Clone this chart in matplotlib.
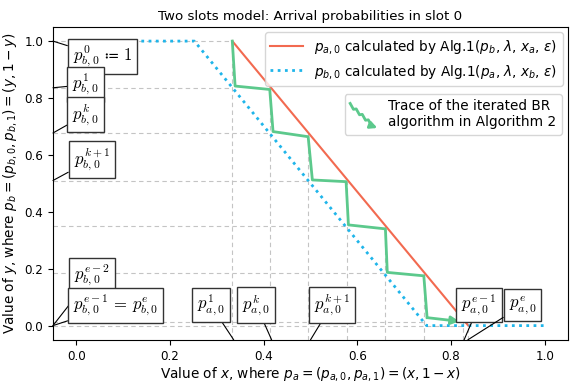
import matplotlib
matplotlib.use("Agg")
import matplotlib.pyplot as plt
from matplotlib.legend_handler import HandlerBase
from matplotlib.lines import Line2D
from matplotlib.patches import FancyArrowPatch

# best response curves
red_x = [0.333, 0.837]
red_y = [1.0, 0.0]
blue_x = [0.0, 0.252, 0.748, 1.0]
blue_y = [1.0, 1.0, 0.0, 0.0]

# trace of the iterated BR algorithm
trace_x = [0.333, 0.339, 0.413, 0.420, 0.495, 0.504, 0.576, 0.581, 0.660, 0.664, 0.742, 0.749]
trace_y = [1.000, 0.842, 0.830, 0.682, 0.664, 0.512, 0.506, 0.354, 0.340, 0.187, 0.175, 0.028]
trace_end = (0.818, 0.015)

# guide lines
pa_vals = [0.333, 0.413, 0.495, 0.578, 0.660, 0.742, 0.826, 0.837]
pb_vals = [1.0, 0.836, 0.677, 0.51, 0.35, 0.186, 0.014, 0.0]

pb_labels = [r"$p_{b,0}^{0} \,\coloneq\, 1$", r"$p_{b,0}^{1}$", r"$p_{b,0}^{k}$",
             r"$p_{b,0}^{k+1}$", r"$p_{b,0}^{e-2}$", r"$p_{b,0}^{e-1} \,=\, p_{b,0}^{e}$"]
pb_targets = [1.0, 0.836, 0.677, 0.51, 0.0, 0.0]
pb_boxpos = [(0.056, 0.945), (0.020, 0.847), (0.020, 0.742), (0.033, 0.584),
             (0.033, 0.175), (0.084, 0.072)]

pa_labels = [r"$p_{a,0}^{1}$", r"$p_{a,0}^{k}$", r"$p_{a,0}^{k+1}$",
             r"$p_{a,0}^{e-1}$", r"$p_{a,0}^{e}$"]
pa_targets = [0.336, 0.417, 0.500, 0.828, 0.836]
pa_boxpos = [(0.287, 0.072), (0.384, 0.072), (0.545, 0.072), (0.860, 0.072), (0.953, 0.072)]

RED = "#f26a50"
BLUE = "#1fb5ea"
GREEN = "#5cc98c"
GRID = "#c4c4c4"

xmin, xmax = -0.05, 1.05
ymin, ymax = -0.05, 1.05


class ZigzagHandler(HandlerBase):
    def create_artists(self, legend, orig_handle, xdescent, ydescent,
                       width, height, fontsize, trans):
        x0, x1 = -xdescent, -xdescent + width
        y0, y1 = -ydescent, -ydescent + height
        n = 4
        xs, ys = [], []
        for i in range(n):
            fx = i / (n + 0.5)
            fy = 1 - i / (n + 0.5)
            xs += [x0 + fx * (x1 - x0), x0 + (fx + 0.12) * (x1 - x0)]
            ys += [y0 + fy * (y1 - y0), y0 + (fy - 0.24) * (y1 - y0)]
        line = Line2D(xs, ys, color=GREEN, lw=2, transform=trans)
        arr = FancyArrowPatch((xs[-1], ys[-1]), (x1, y0), arrowstyle="-|>",
                              mutation_scale=10, color=GREEN, lw=2,
                              shrinkA=0, shrinkB=0, transform=trans)
        return [line, arr]


fig = plt.figure(figsize=(5.82, 3.84), dpi=100)
ax = fig.add_axes([0.091, 0.115, 0.885, 0.815])

for i, (xa, yb) in enumerate(zip(pa_vals, pb_vals)):
    ax.plot([xa, xa], [ymin, yb], color=GRID, lw=0.8, ls=(0, (4, 3)), zorder=1)
    ax.plot([xmin, pa_vals[max(i - 1, 0)]], [yb, yb], color=GRID, lw=0.8,
            ls=(0, (4, 3)), zorder=1)

h1, = ax.plot(red_x, red_y, color=RED, lw=1.5, zorder=3,
              label=r"$p_{a,0}$ calculated by Alg.1($p_b$, $\lambda$, $x_a$, $\varepsilon$)")
h2, = ax.plot(blue_x, blue_y, color=BLUE, lw=2, ls=(0, (1, 1.6)), zorder=3,
              label=r"$p_{b,0}$ calculated by Alg.1($p_a$, $\lambda$, $x_b$, $\varepsilon$)")
ax.plot(trace_x, trace_y, color=GREEN, lw=2, zorder=4)
ax.annotate("", xy=trace_end, xytext=(trace_x[-1], trace_y[-1]),
            arrowprops=dict(arrowstyle="-|>", color=GREEN, lw=2,
                            mutation_scale=12, shrinkA=0, shrinkB=0), zorder=4)

box = dict(boxstyle="square,pad=0.3", fc="white", ec="#333333", lw=1)
for lab, yt, pos in zip(pb_labels, pb_targets, pb_boxpos):
    ax.annotate(lab, xy=(xmin, yt), xytext=pos, ha="center", va="center",
                fontsize=12, math_fontfamily="cm", bbox=box, annotation_clip=False,
                arrowprops=dict(arrowstyle="-", color="black", lw=0.8,
                                shrinkA=0, shrinkB=0), zorder=6)
for lab, xt, pos in zip(pa_labels, pa_targets, pa_boxpos):
    ax.annotate(lab, xy=(xt, ymin), xytext=pos, ha="center", va="center",
                fontsize=12, math_fontfamily="cm", bbox=box, annotation_clip=False,
                arrowprops=dict(arrowstyle="-", color="black", lw=0.8,
                                shrinkA=0, shrinkB=0), zorder=6)

ax.set_xlim(xmin, xmax)
ax.set_ylim(ymin, ymax)
ax.set_xticks([0.0, 0.2, 0.4, 0.6, 0.8, 1.0])
ax.set_yticks([0.0, 0.2, 0.4, 0.6, 0.8, 1.0])
ax.tick_params(labelsize=8.6)
ax.set_xlabel(r"Value of $x$, where $p_a = (p_{a,0}, p_{a,1}) = (x, 1-x)$", fontsize=9.8, labelpad=2)
ax.set_ylabel(r"Value of $y$, where $p_b = (p_{b,0}, p_{b,1}) = (y, 1-y)$", fontsize=9.8, labelpad=4)
ax.set_title("Two slots model: Arrival probabilities in slot 0", fontsize=9.6, pad=5)

leg1 = ax.legend(handles=[h1, h2], loc="upper right", fontsize=9.8,
                 handlelength=2.4, borderaxespad=0.4)
leg1.set_zorder(7)
ax.add_artist(leg1)

trace_handle = Line2D([], [], color=GREEN)
leg2 = ax.legend(handles=[trace_handle],
                 labels=["Trace of the iterated BR\nalgorithm in Algorithm 2"],
                 handler_map={Line2D: ZigzagHandler()},
                 loc="upper right", bbox_to_anchor=(0.988, 0.786),
                 borderaxespad=0, fontsize=9.8, handlelength=2.0, handleheight=2.4)
leg2.set_zorder(7)

fig.savefig("out.png", dpi=100)
